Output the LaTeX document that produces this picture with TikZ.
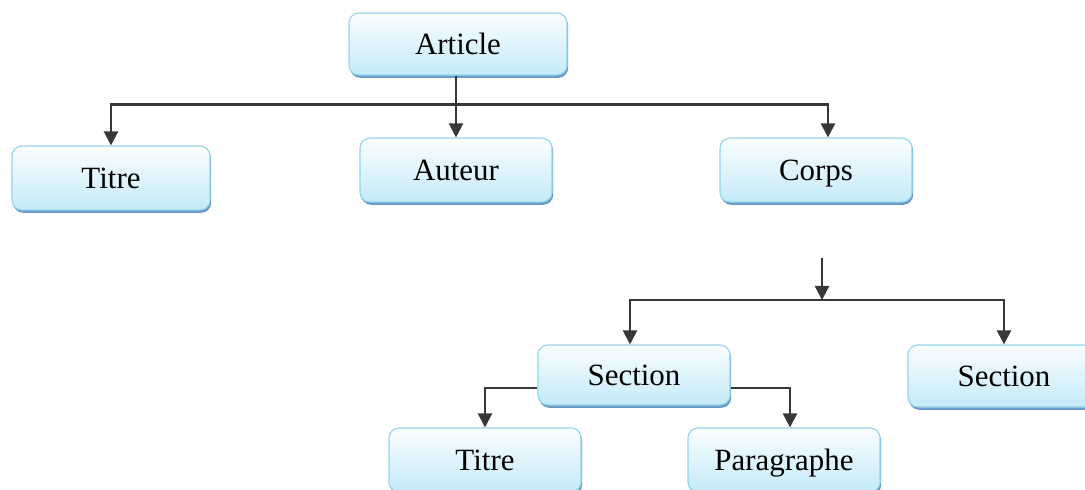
\documentclass[tikz,border=0pt]{standalone}
\usepackage{fontspec}
\setmainfont{Liberation Serif}
\usetikzlibrary{arrows.meta,shadows}

\definecolor{boxline}{RGB}{150,212,236}
\definecolor{boxtop}{RGB}{250,254,255}
\definecolor{boxbottom}{RGB}{196,234,249}
\definecolor{boxshadow}{RGB}{70,130,185}
\definecolor{linkgray}{RGB}{55,55,55}

\begin{document}
\begin{tikzpicture}[x=0.025cm, y=-0.025cm,
    box/.style={draw=boxline, line width=0.8pt, rounded corners=0.25cm,
      top color=boxtop, bottom color=boxbottom,
      minimum width=4.8cm, minimum height=1.6cm,
      text height=15.4pt, text depth=1.1pt,
      font=\fontsize{22}{26}\selectfont,
      drop shadow={shadow xshift=0.03cm, shadow yshift=-0.07cm, fill=boxshadow, opacity=0.8}},
    link/.style={draw=linkgray, line width=1.6pt, -{Triangle[width=10pt,length=10pt]}}]

%      page frame
      \useasboundingbox (0,0) rectangle (1085,489);
      \clip (0,0) rectangle (1085,489);

      % first level
      \node[box, minimum width=5.45cm, minimum height=1.55cm] (article) at (458,44) {Article};
      \node[box, minimum width=4.95cm] (titre) at (111,178) {Titre};
      \node[box] (auteur) at (456,170) {Auteur};
      \node[box] (corps) at (816,170) {Corps};

      % second level
      \node[box, minimum height=1.5cm] (section) at (634,375) {Section};
      \node[box, minimum height=1.55cm] (section2) at (1004,376) {Section};
      \node[box] (soustitre) at (485,460) {Titre};
      \node[box] (paragraphe) at (784,460) {Paragraphe};

      \draw[link] (article.south -| auteur) -- ++(0,29) -| (titre.north);
      \draw[link] (article.south -| auteur) -- (auteur.north);
      \draw[link] (article.south -| auteur) -- ++(0,29) -| ([xshift=0.3cm]corps.north);

      \coordinate (split) at (822,258);
      \coordinate (bus) at (822,300);
      \draw[link] (split) -- (bus);
      \draw[link] (bus) -| ([xshift=-0.1cm]section.north);
      \draw[link] (bus) -| (section2.north);

      \draw[link] (section.west |- 0,388) -| (soustitre.north);
      \draw[link] (section.east |- 0,388) -| ([xshift=0.15cm]paragraphe.north);
\end{tikzpicture}
\end{document}
